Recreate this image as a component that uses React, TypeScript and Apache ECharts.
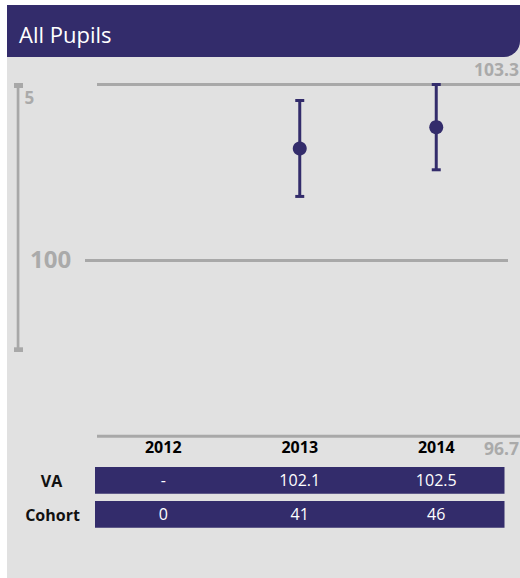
import React, { useEffect, useRef } from "react";
import * as echarts from "echarts";

const categories = ["2012", "2013", "2014"];
const vaValues: (number | null)[] = [null, 102.1, 102.5];
const vaLow: (number | null)[] = [null, 101.2, 101.7];
const vaHigh: (number | null)[] = [null, 103.0, 103.3];
const vaLabels = ["-", "102.1", "102.5"];
const cohort = [0, 41, 46];
const refLines = [103.3, 100, 96.7];
const yMin = 96.7;
const yMax = 103.3;

const NAVY = "#332c6b";
const GREY_LINE = "#a8a8a8";
const GREY_TEXT = "#aaaaaa";
const FONT = "'Open Sans', sans-serif";

const refExtents = [
  [97, 520],
  [85, 508],
  [97, 520],
];

export default function App() {
  const ref = useRef<HTMLDivElement>(null);
  useEffect(() => {
    if (!ref.current) return;
    const chart = echarts.init(ref.current, undefined, { renderer: "svg" });
    const option: any = {
      animation: false,
      textStyle: { fontFamily: FONT },
      grid: { left: 95, top: 84.5, width: 409.5, height: 351.8 },
      xAxis: {
        type: "category",
        data: categories,
        boundaryGap: true,
        axisLine: { show: false },
        axisTick: { show: false },
        splitLine: { show: false },
        axisLabel: {
          fontSize: 16,
          fontWeight: "bold",
          color: "#000",
          margin: 3,
          fontFamily: FONT,
        },
      },
      yAxis: {
        type: "value",
        min: yMin,
        max: yMax,
        show: false,
        splitLine: { show: false },
      },
      graphic: [
        {
          type: "rect",
          z: -10,
          shape: { x: 7, y: 5, width: 513, height: 573 },
          style: { fill: "#e1e1e1" },
        },
        {
          type: "rect",
          shape: { x: 7, y: 5, width: 513, height: 52, r: [0, 0, 16, 0] },
          style: { fill: NAVY },
        },
        {
          type: "text",
          x: 19,
          y: 34,
          style: {
            text: "All Pupils",
            fill: "#fff",
            fontSize: 22,
            fontFamily: FONT,
            verticalAlign: "middle",
          },
        },
        {
          type: "rect",
          shape: { x: 16.7, y: 83, width: 2.7, height: 269 },
          style: { fill: GREY_LINE },
        },
        {
          type: "rect",
          shape: { x: 14, y: 83, width: 9, height: 5 },
          style: { fill: GREY_LINE },
        },
        {
          type: "rect",
          shape: { x: 14, y: 347.3, width: 9, height: 4.7 },
          style: { fill: GREY_LINE },
        },
        {
          type: "text",
          x: 24.5,
          y: 97,
          style: {
            text: "5",
            fill: GREY_TEXT,
            fontSize: 17,
            fontWeight: "bold",
            fontFamily: FONT,
            verticalAlign: "middle",
          },
        },
        {
          type: "text",
          x: 30,
          y: 258,
          style: {
            text: "100",
            fill: GREY_TEXT,
            fontSize: 24,
            fontWeight: "bold",
            fontFamily: FONT,
            verticalAlign: "middle",
          },
        },
        {
          type: "text",
          x: 519,
          y: 68.5,
          style: {
            text: "103.3",
            fill: GREY_TEXT,
            fontSize: 17.5,
            fontWeight: "bold",
            fontFamily: FONT,
            align: "right",
            verticalAlign: "middle",
          },
        },
        {
          type: "text",
          x: 519,
          y: 447.5,
          style: {
            text: "96.7",
            fill: GREY_TEXT,
            fontSize: 17.5,
            fontWeight: "bold",
            fontFamily: FONT,
            align: "right",
            verticalAlign: "middle",
          },
        },
        {
          type: "text",
          x: 51.5,
          y: 480.5,
          style: {
            text: "VA",
            fill: "#111",
            fontSize: 16,
            fontWeight: "bold",
            fontFamily: FONT,
            align: "center",
            verticalAlign: "middle",
          },
        },
        {
          type: "text",
          x: 52.5,
          y: 514.5,
          style: {
            text: "Cohort",
            fill: "#111",
            fontSize: 16,
            fontWeight: "bold",
            fontFamily: FONT,
            align: "center",
            verticalAlign: "middle",
          },
        },
      ],
      series: [
        {
          type: "custom",
          name: "refLines",
          silent: true,
          clip: false,
          z: 1,
          encode: { x: 0, y: 1 },
          data: refLines.map((v) => [0, v]),
          renderItem: (params: any, api: any) => {
            const y = api.coord([0, api.value(1)])[1];
            const ext = refExtents[params.dataIndex];
            return {
              type: "line",
              shape: { x1: ext[0], y1: y, x2: ext[1], y2: y },
              style: { stroke: GREY_LINE, lineWidth: 3 },
            };
          },
        },
        {
          type: "custom",
          name: "errorBars",
          clip: false,
          z: 3,
          encode: { x: 0, y: [1, 2] },
          data: categories
            .map((c, i) => [i, vaLow[i], vaHigh[i]])
            .filter((d) => d[1] != null),
          renderItem: (params: any, api: any) => {
            const lo = api.coord([api.value(0), api.value(1)]);
            const hi = api.coord([api.value(0), api.value(2)]);
            const hw = 4.5;
            const st = { stroke: NAVY, lineWidth: 3 };
            return {
              type: "group",
              children: [
                { type: "line", shape: { x1: lo[0], y1: lo[1], x2: hi[0], y2: hi[1] }, style: st },
                { type: "line", shape: { x1: hi[0] - hw, y1: hi[1], x2: hi[0] + hw, y2: hi[1] }, style: st },
                { type: "line", shape: { x1: lo[0] - hw, y1: lo[1], x2: lo[0] + hw, y2: lo[1] }, style: st },
              ],
            };
          },
        },
        {
          type: "scatter",
          name: "VA",
          z: 4,
          symbol: "circle",
          symbolSize: 14,
          itemStyle: { color: NAVY, opacity: 1 },
          data: vaValues.map((v) => (v == null ? "-" : v)),
        },
        {
          type: "custom",
          name: "table",
          clip: false,
          z: 3,
          encode: { x: 0, y: 1 },
          data: categories.map((c, i) => [i, yMin]),
          renderItem: (params: any, api: any) => {
            const i = params.dataIndex;
            const n = categories.length;
            const cx = api.coord([api.value(0), yMin])[0];
            const bw = api.size([1, 0])[0];
            const rows = [
              { y: 467, h: 26.7, text: vaLabels[i] },
              { y: 501, h: 26.7, text: String(cohort[i]) },
            ];
            const children: any[] = [];
            if (i === 0) {
              const xStart = api.coord([0, yMin])[0] - bw / 2;
              const xEnd = api.coord([n - 1, yMin])[0] + bw / 2;
              rows.forEach((r) => {
                children.push({
                  type: "rect",
                  z2: 0,
                  shape: { x: xStart, y: r.y, width: xEnd - xStart, height: r.h },
                  style: { fill: NAVY },
                });
              });
            }
            rows.forEach((r) => {
              children.push({
                type: "text",
                x: cx,
                y: r.y + r.h / 2,
                z2: 10,
                style: {
                  text: r.text,
                  fill: "#fff",
                  fontSize: 16,
                  fontFamily: FONT,
                  align: "center",
                  verticalAlign: "middle",
                },
              });
            });
            return { type: "group", children };
          },
        },
      ],
    };
    chart.setOption(option);
    return () => chart.dispose();
  }, []);
  return (
    <div
      ref={ref}
      style={{ position: "absolute", left: 0, top: 0, width: 520, height: 578 }}
    />
  );
}
